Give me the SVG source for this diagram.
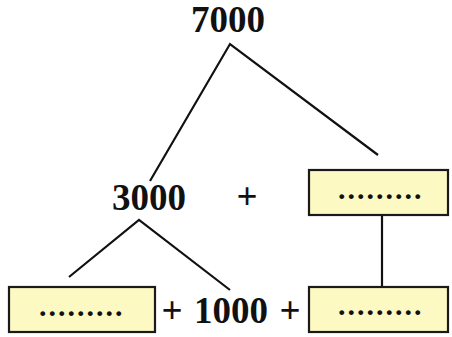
<svg xmlns="http://www.w3.org/2000/svg" width="452" height="337" viewBox="0 0 452 337">
<style>
.num{font-family:"Liberation Serif","Times New Roman",serif;font-weight:bold;font-size:37px;fill:#111;text-anchor:middle}
.box{fill:#fdf9c2;stroke:#1a1a1a;stroke-width:2.2}
.dots{font-family:"Liberation Serif",serif;font-weight:bold;font-size:30px;fill:#111;letter-spacing:2px}
.ln{stroke:#111;stroke-width:2.2;fill:none}
</style>
<rect width="452" height="337" fill="#fff"/>
<g id="connectors">
<polyline class="ln" points="150,181 230,44 378,155"/>
<polyline class="ln" points="69,277 139,220 230,290"/>
<line class="ln" x1="382" y1="215" x2="382" y2="287"/>
</g>
<g id="n7000"><text class="num" x="228" y="32">7000</text></g>
<g id="n3000"><text class="num" x="149" y="210">3000</text></g>
<g id="plus1"><text class="num" x="247" y="209">+</text></g>
<g id="boxTopRight"><rect class="box" x="309" y="170" width="139" height="45"/><text class="dots" x="338" y="199">.........</text></g>
<g id="boxBottomLeft"><rect class="box" x="9" y="287" width="146" height="45"/><text class="dots" x="39" y="316">.........</text></g>
<g id="expr"><text class="num" x="172" y="323">+</text><text class="num" x="231" y="323">1000</text><text class="num" x="290" y="323">+</text></g>
<g id="boxBottomRight"><rect class="box" x="309" y="287" width="139" height="45"/><text class="dots" x="338" y="315">.........</text></g>
</svg>
